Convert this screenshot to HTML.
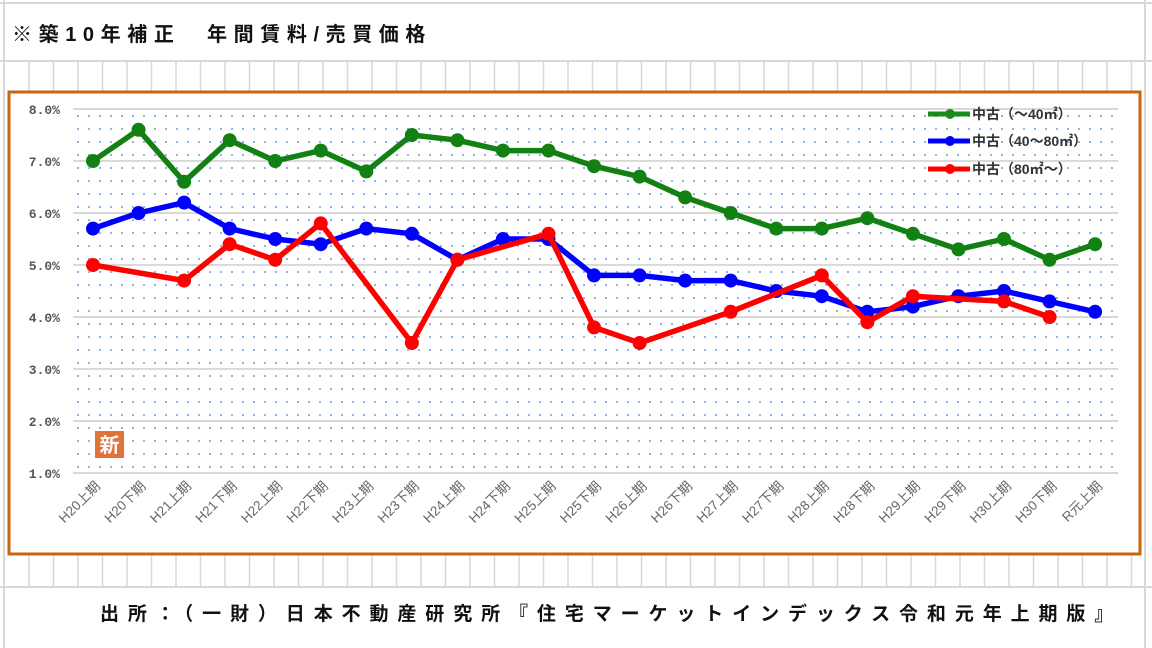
<!DOCTYPE html>
<html><head><meta charset="utf-8"><style>
body{margin:0;width:1152px;height:648px;background:#fff;overflow:hidden;font-family:"Liberation Sans","Noto Sans CJK JP",sans-serif;}
</style></head><body>
<svg width="1152" height="648" xmlns="http://www.w3.org/2000/svg" style="position:absolute;left:0;top:0">
<defs>
<pattern id="dots" x="74" y="112" width="11" height="13" patternUnits="userSpaceOnUse">
<rect x="3" y="3" width="2" height="2" fill="#8fb4e3"/>
</pattern>
</defs>
<g stroke="#d8d8d8" stroke-width="2">
<line x1="0" y1="3" x2="1152" y2="3"/>
<line x1="0" y1="61" x2="1152" y2="61"/>
<line x1="0" y1="587" x2="1152" y2="587"/>
<line x1="4" y1="0" x2="4" y2="648"/>
<line x1="1145" y1="0" x2="1145" y2="648"/>
</g>
<g stroke="#d8d8d8" stroke-width="1.5" id="cols"></g>
<text x="12" y="41" font-size="20" font-weight="bold" fill="#111" letter-spacing="6.6">※築10年補正　年間賃料/売買価格</text>
<rect x="9" y="92" width="1131" height="462" fill="#fff" stroke="#c8660c" stroke-width="3"/>
<rect x="74" y="110" width="1044" height="363" fill="url(#dots)"/>
<g stroke="#d9d9d9" stroke-width="2">
<line x1="73" y1="109" x2="1118" y2="109"/><line x1="73" y1="161" x2="1118" y2="161"/>
<line x1="73" y1="213" x2="1118" y2="213"/><line x1="73" y1="265" x2="1118" y2="265"/>
<line x1="73" y1="317" x2="1118" y2="317"/><line x1="73" y1="369" x2="1118" y2="369"/>
<line x1="73" y1="421" x2="1118" y2="421"/><line x1="73" y1="473" x2="1118" y2="473"/>
</g>
<g font-size="13" font-weight="bold" fill="#555" text-anchor="end" font-family="Liberation Mono, monospace">
<text x="60" y="114">8.0%</text><text x="60" y="166">7.0%</text><text x="60" y="218">6.0%</text>
<text x="60" y="270">5.0%</text><text x="60" y="322">4.0%</text><text x="60" y="374">3.0%</text>
<text x="60" y="426">2.0%</text><text x="60" y="478">1.0%</text>
</g>
<rect x="95" y="431" width="29" height="27" fill="#e0733a"/>
<text x="109.5" y="452" font-size="20" font-weight="bold" fill="#fff" text-anchor="middle">新</text>
<g id="series"></g>
<g id="xl" font-size="13.5" fill="#666"></g>
<g font-size="14" font-weight="bold" fill="#333">
<line x1="928" y1="114" x2="970" y2="114" stroke="#1a8a1a" stroke-width="5"/><circle cx="950" cy="114" r="5" fill="#1a8a1a"/>
<text x="972" y="119">中古（～40㎡）</text>
<line x1="928" y1="141" x2="970" y2="141" stroke="#0000ff" stroke-width="5"/><circle cx="950" cy="141" r="5" fill="#0000ff"/>
<text x="972" y="146">中古（40～80㎡）</text>
<line x1="928" y1="169" x2="970" y2="169" stroke="#ff0000" stroke-width="5"/><circle cx="950" cy="169" r="5" fill="#ff0000"/>
<text x="972" y="174">中古（80㎡～）</text>
</g>
<text x="100" y="620" font-size="19" font-weight="bold" fill="#111" letter-spacing="8.9">出所：（一財）日本不動産研究所『住宅マーケットインデックス令和元年上期版』</text>
</svg>
<script>
var ns="http://www.w3.org/2000/svg";
var cols=document.getElementById("cols");
for(var x=29;x<1145;x+=24.5){[[61,92],[555,587]].forEach(function(r){var l=document.createElementNS(ns,"line");l.setAttribute("x1",x);l.setAttribute("x2",x);l.setAttribute("y1",r[0]);l.setAttribute("y2",r[1]);cols.appendChild(l);});}
function X(i){return 93+i*45.55;}function Y(v){return 473-(v-1)*52;}
var g=[7.0,7.6,6.6,7.4,7.0,7.2,6.8,7.5,7.4,7.2,7.2,6.9,6.7,6.3,6.0,5.7,5.7,5.9,5.6,5.3,5.5,5.1,5.4];
var b=[5.7,6.0,6.2,5.7,5.5,5.4,5.7,5.6,5.1,5.5,5.5,4.8,4.8,4.7,4.7,4.5,4.4,4.1,4.2,4.4,4.5,4.3,4.1];
var r={0:5.0,2:4.7,3:5.4,4:5.1,5:5.8,7:3.5,8:5.1,10:5.6,11:3.8,12:3.5,14:4.1,16:4.8,17:3.9,18:4.4,20:4.3,21:4.0};
var S=document.getElementById("series");
function draw(pts,c){var p=document.createElementNS(ns,"polyline");p.setAttribute("points",pts.map(function(q){return q.join(",")}).join(" "));p.setAttribute("fill","none");p.setAttribute("stroke",c);p.setAttribute("stroke-width","5.5");p.setAttribute("stroke-linejoin","round");S.appendChild(p);
pts.forEach(function(q){var e=document.createElementNS(ns,"circle");e.setAttribute("cx",q[0]);e.setAttribute("cy",q[1]);e.setAttribute("r","7");e.setAttribute("fill",c);S.appendChild(e);});}
draw(b.map(function(v,i){return[X(i),Y(v)]}),"#0000ff");
var rp=[];for(var k in r)rp.push([X(+k),Y(r[k])]);rp.sort(function(a,c){return a[0]-c[0]});
draw(rp,"#ff0000");
draw(g.map(function(v,i){return[X(i),Y(v)]}),"#138013");
var labs=["H20上期","H20下期","H21上期","H21下期","H22上期","H22下期","H23上期","H23下期","H24上期","H24下期","H25上期","H25下期","H26上期","H26下期","H27上期","H27下期","H28上期","H28下期","H29上期","H29下期","H30上期","H30下期","R元上期"];
var xl=document.getElementById("xl");
labs.forEach(function(t,i){var e=document.createElementNS(ns,"text");var x=X(i)+8,y=487;e.setAttribute("x",x);e.setAttribute("y",y);e.setAttribute("text-anchor","end");e.setAttribute("transform","rotate(-45 "+x+" "+y+")");e.textContent=t;xl.appendChild(e);});
</script>
</body></html>
